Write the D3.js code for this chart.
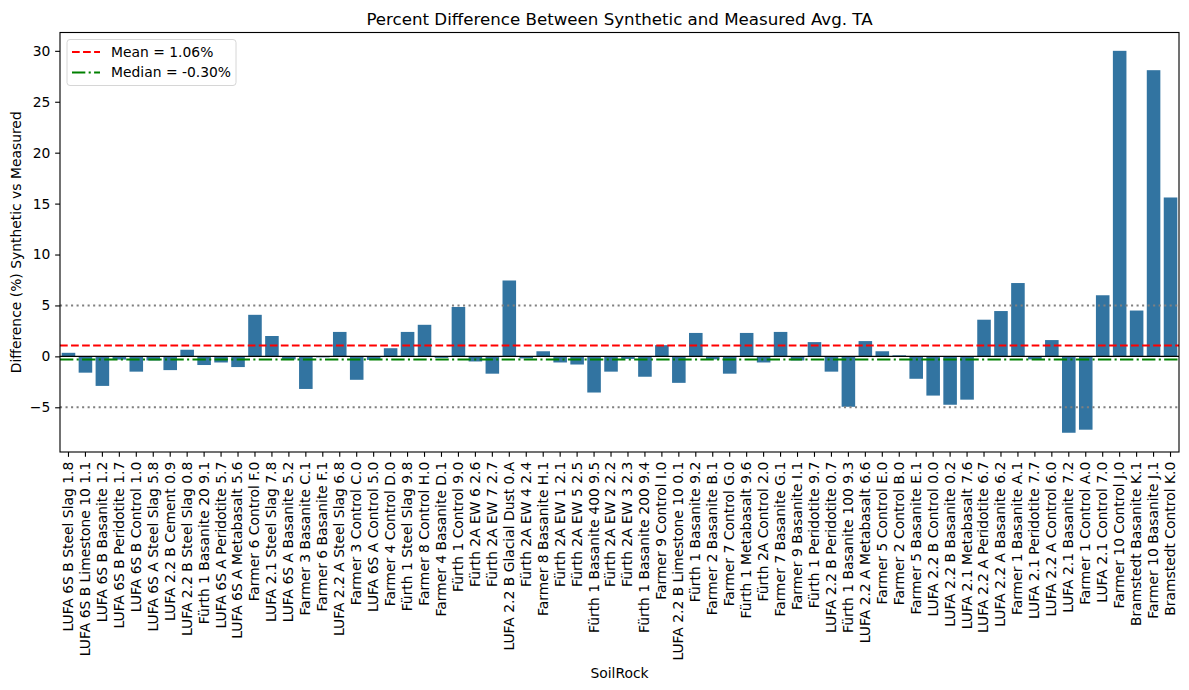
<!DOCTYPE html>
<html>
<head>
<meta charset="utf-8">
<script src="https://cdn.jsdelivr.net/npm/d3@7"></script>
<style>
  body { margin: 0; background: #fff; }
  svg, svg text { font-family: "DejaVu Sans", sans-serif; }
</style>
</head>
<body>
<script>
// percent difference synthetic vs measured, one bar per soil/rock

const soilRock = [
  "LUFA 6S B Steel Slag 1.8", "LUFA 6S B Limestone 10 1.1", "LUFA 6S B Basanite 1.2",
  "LUFA 6S B Peridotite 1.7", "LUFA 6S B Control 1.0", "LUFA 6S A Steel Slag 5.8",
  "LUFA 2.2 B Cement 0.9", "LUFA 2.2 B Steel Slag 0.8", "Fürth 1 Basanite 20 9.1",
  "LUFA 6S A Peridotite 5.7", "LUFA 6S A Metabasalt 5.6", "Farmer 6 Control F.0",
  "LUFA 2.1 Steel Slag 7.8", "LUFA 6S A Basanite 5.2", "Farmer 3 Basanite C.1",
  "Farmer 6 Basanite F.1", "LUFA 2.2 A Steel Slag 6.8", "Farmer 3 Control C.0",
  "LUFA 6S A Control 5.0", "Farmer 4 Control D.0", "Fürth 1 Steel Slag 9.8",
  "Farmer 8 Control H.0", "Farmer 4 Basanite D.1", "Fürth 1 Control 9.0",
  "Fürth 2A EW 6 2.6", "Fürth 2A EW 7 2.7", "LUFA 2.2 B Glacial Dust 0.A",
  "Fürth 2A EW 4 2.4", "Farmer 8 Basanite H.1", "Fürth 2A EW 1 2.1",
  "Fürth 2A EW 5 2.5", "Fürth 1 Basanite 400 9.5", "Fürth 2A EW 2 2.2",
  "Fürth 2A EW 3 2.3", "Fürth 1 Basanite 200 9.4", "Farmer 9 Control I.0",
  "LUFA 2.2 B Limestone 10 0.1", "Fürth 1 Basanite 9.2", "Farmer 2 Basanite B.1",
  "Farmer 7 Control G.0", "Fürth 1 Metabasalt 9.6", "Fürth 2A Control 2.0",
  "Farmer 7 Basanite G.1", "Farmer 9 Basanite I.1", "Fürth 1 Peridotite 9.7",
  "LUFA 2.2 B Peridotite 0.7", "Fürth 1 Basanite 100 9.3", "LUFA 2.2 A Metabasalt 6.6",
  "Farmer 5 Control E.0", "Farmer 2 Control B.0", "Farmer 5 Basanite E.1",
  "LUFA 2.2 B Control 0.0", "LUFA 2.2 B Basanite 0.2", "LUFA 2.1 Metabasalt 7.6",
  "LUFA 2.2 A Peridotite 6.7", "LUFA 2.2 A Basanite 6.2", "Farmer 1 Basanite A.1",
  "LUFA 2.1 Peridotite 7.7", "LUFA 2.2 A Control 6.0", "LUFA 2.1 Basanite 7.2",
  "Farmer 1 Control A.0", "LUFA 2.1 Control 7.0", "Farmer 10 Control J.0",
  "Bramstedt Basanite K.1", "Farmer 10 Basanite J.1", "Bramstedt Control K.0"
];

const pctDiff = [
  0.35, -1.6, -2.9, -0.32, -1.5, -0.4, -1.35, 0.65, -0.85, -0.6, -1.05, 4.08,
  2.0, -0.3, -3.2, -0.1, 2.4, -2.3, -0.35, 0.8, 2.4, 3.1, -0.15, 4.85,
  -0.5, -1.7, 7.45, -0.2, 0.5, -0.6, -0.8, -3.55, -1.5, -0.25, -2.0, 1.1,
  -2.6, 2.3, -0.3, -1.7, 2.3, -0.6, 2.4, -0.4, 1.4, -1.5, -4.95, 1.5,
  0.5, 0.1, -2.2, -3.85, -4.75, -4.25, 3.6, 4.45, 7.2, -0.3, 1.6, -7.5,
  -7.2, 6.0, 30.0, 4.5, 28.1, 15.6
];

const meanVal = 1.06;
const medianVal = -0.30;
const yTicks = [-5, 0, 5, 10, 15, 20, 25, 30];

const W = 1189, H = 690;
const margin = {top: 32.5, right: 10, bottom: 238, left: 60};
const pt = 100 / 72;
const FONT = "DejaVu Sans";

const svg = d3.select("body").append("svg")
    .attr("width", W)
    .attr("height", H);

const x = d3.scaleBand()
    .domain(soilRock)
    .range([margin.left, W - margin.right])
    .paddingInner(0.2)
    .paddingOuter(0.1);

const y = d3.scaleLinear()
    .domain([-9.39, 31.8])
    .range([H - margin.bottom, margin.top]);

// bars
svg.append("g")
  .selectAll("rect")
  .data(pctDiff)
  .enter()
  .append("rect")
    .attr("x", (d, i) => x(soilRock[i]))
    .attr("width", x.bandwidth())
    .attr("y", d => y(Math.max(0, d)))
    .attr("height", d => Math.abs(y(d) - y(0)))
    .attr("fill", "#3274a1");

// reference lines
function hline(v, color, dash, lw) {
  svg.append("line")
      .attr("x1", margin.left)
      .attr("x2", W - margin.right)
      .attr("y1", y(v))
      .attr("y2", y(v))
      .attr("stroke", color)
      .attr("stroke-width", lw)
      .attr("stroke-dasharray", dash);
}
hline(5, "gray", [1.5 * pt, 2.475 * pt].join(","), 1.5 * pt);
hline(-5, "gray", [1.5 * pt, 2.475 * pt].join(","), 1.5 * pt);
hline(0, "black", null, 1 * pt);
hline(meanVal, "red", [5.55 * pt, 2.4 * pt].join(","), 1.5 * pt);
hline(medianVal, "green", [9.6 * pt, 2.4 * pt, 1.5 * pt, 2.4 * pt].join(","), 1.5 * pt);

// axes
const xAxis = svg.append("g")
    .attr("transform", "translate(0," + (H - margin.bottom) + ")")
    .call(d3.axisBottom(x).tickSize(3.5 * pt).tickSizeOuter(0));
xAxis.selectAll("text")
    .attr("transform", "rotate(-90)")
    .attr("x", -3.5 * pt - 3.5 * pt)
    .attr("y", 0)
    .attr("dy", "0.32em")
    .style("text-anchor", "end");

const yAxis = svg.append("g")
    .attr("transform", "translate(" + margin.left + ",0)")
    .call(d3.axisLeft(y).tickValues(yTicks).tickSize(3.5 * pt).tickSizeOuter(0)
      .tickFormat(d => d < 0 ? "\u2212" + Math.abs(d) : d));
yAxis.selectAll("text")
    .attr("x", -3.5 * pt - 3.5 * pt);

[xAxis, yAxis].forEach(g => {
  g.attr("font-family", FONT).attr("font-size", 10 * pt);
  g.selectAll("text").attr("fill", "#000");
  g.select(".domain").remove();
  g.selectAll(".tick line").attr("stroke", "#000").attr("stroke-width", 0.8 * pt);
});

// frame
svg.append("rect")
    .attr("x", margin.left)
    .attr("y", margin.top)
    .attr("width", W - margin.right - margin.left)
    .attr("height", H - margin.bottom - margin.top)
    .attr("fill", "none")
    .attr("stroke", "#000")
    .attr("stroke-width", 0.8 * pt);

// title and axis labels
svg.append("text")
    .text("Percent Difference Between Synthetic and Measured Avg. TA")
    .attr("x", (margin.left + W - margin.right) / 2)
    .attr("y", margin.top - 8)
    .style("text-anchor", "middle")
    .style("font-size", (12 * pt) + "px");

svg.append("text")
    .text("SoilRock")
    .attr("x", (margin.left + W - margin.right) / 2)
    .attr("y", 678)
    .style("text-anchor", "middle")
    .style("font-size", (10 * pt) + "px");

svg.append("text")
    .text("Difference (%) Synthetic vs Measured")
    .attr("transform", "translate(21," + ((margin.top + H - margin.bottom) / 2) + ") rotate(-90)")
    .style("text-anchor", "middle")
    .style("font-size", (10 * pt) + "px");

// legend
const legend = svg.append("g").attr("transform", "translate(" + (margin.left + 7) + "," + (margin.top + 7) + ")");
legend.append("rect")
    .attr("width", 169)
    .attr("height", 46)
    .attr("rx", 3)
    .attr("fill", "#fff")
    .attr("fill-opacity", 0.8)
    .attr("stroke", "#d6d6d6");

const legendItems = [
  {label: "Mean = " + meanVal.toFixed(2) + "%", color: "red", dash: [5.55 * pt, 2.4 * pt]},
  {label: "Median = " + medianVal.toFixed(2) + "%", color: "green", dash: [9.6 * pt, 2.4 * pt, 1.5 * pt, 2.4 * pt]}
];
legendItems.forEach((it, i) => {
  const cy = 12.5 + i * 20.5;
  legend.append("line")
      .attr("x1", 5).attr("x2", 33)
      .attr("y1", cy).attr("y2", cy)
      .attr("stroke", it.color)
      .attr("stroke-width", 1.5 * pt)
      .attr("stroke-dasharray", it.dash.join(","));
  legend.append("text")
      .text(it.label)
      .attr("x", 44)
      .attr("y", cy)
      .attr("dy", "0.35em")
      .style("font-size", (10 * pt) + "px");
});
</script>
</body>
</html>
